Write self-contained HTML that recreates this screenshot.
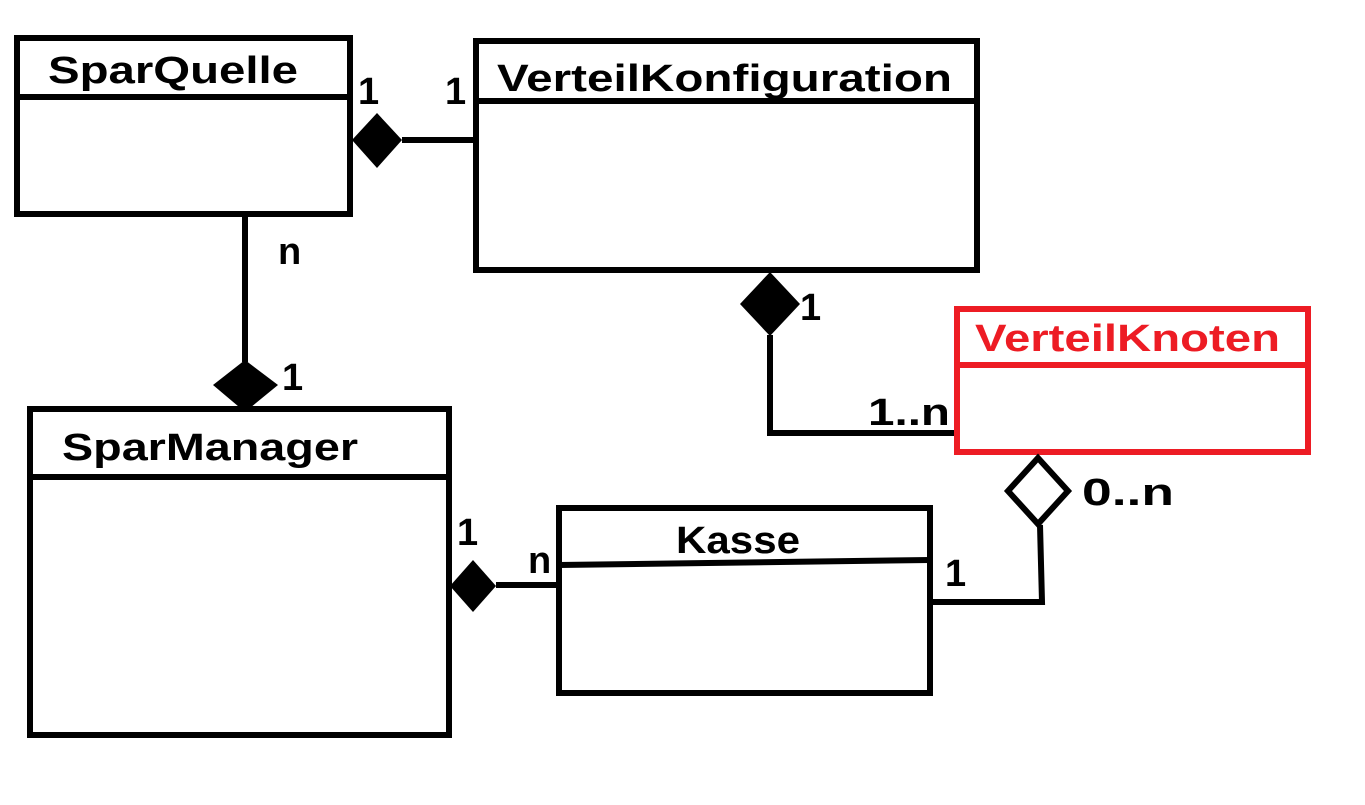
<!DOCTYPE html>
<html><head><meta charset="utf-8"><style>
html,body{margin:0;padding:0;background:#fff;width:1365px;height:805px;overflow:hidden}
text{font-family:"Comic Sans MS","Liberation Sans",sans-serif;font-weight:bold}
</style></head><body>
<svg width="1365" height="805" xmlns="http://www.w3.org/2000/svg">
<g fill="none" stroke="#000" stroke-width="6">
<rect x="17" y="38" width="333" height="176"/>
<line x1="17" y1="97" x2="350" y2="97"/>
<rect x="476" y="41" width="501" height="229"/>
<line x1="476" y1="101" x2="977" y2="101"/>
<rect x="30" y="409" width="419" height="326"/>
<line x1="30" y1="477" x2="452" y2="477"/>
<rect x="559" y="508" width="371" height="185"/>
<line x1="559" y1="565" x2="930" y2="560"/>
<line x1="402" y1="140" x2="476" y2="140"/>
<line x1="245" y1="214" x2="245" y2="362"/>
<line x1="496" y1="585" x2="559" y2="585"/>
<polyline points="770,335 770,433 957,433"/>
<polyline points="1040,525 1042,602 930,602"/>
</g>
<rect x="957" y="309" width="351" height="143" fill="none" stroke="#ed1c24" stroke-width="6"/>
<line x1="957" y1="365" x2="1308" y2="365" stroke="#ed1c24" stroke-width="6"/>
<polygon points="352,140 377,113 402,140 377,168" fill="#000"/>
<polygon points="245,360 278,385 245,412 213,385" fill="#000"/>
<polygon points="450,586 473,560 496,586 473,612" fill="#000"/>
<polygon points="770,272 800,304 770,336 740,304" fill="#000"/>
<polygon points="1038,458 1068,491 1038,524 1008,491" fill="#fff" stroke="#000" stroke-width="6"/>
<g font-size="38" fill="#000">
<text x="48" y="83" textLength="250" lengthAdjust="spacingAndGlyphs">SparQuelle</text>
<text x="497" y="91" textLength="455" lengthAdjust="spacingAndGlyphs">VerteilKonfiguration</text>
<text x="62" y="460" textLength="296" lengthAdjust="spacingAndGlyphs">SparManager</text>
<text x="676" y="553" textLength="124" lengthAdjust="spacingAndGlyphs">Kasse</text>
<text x="975" y="351" fill="#ed1c24" textLength="305" lengthAdjust="spacingAndGlyphs">VerteilKnoten</text>
<text x="358" y="104">1</text>
<text x="445" y="104">1</text>
<text x="278" y="264">n</text>
<text x="282" y="390">1</text>
<text x="457" y="545">1</text>
<text x="528" y="573">n</text>
<text x="800" y="320">1</text>
<text x="868" y="425" textLength="82" lengthAdjust="spacingAndGlyphs">1..n</text>
<text x="1082" y="505" textLength="92" lengthAdjust="spacingAndGlyphs">0..n</text>
<text x="945" y="586">1</text>
</g>
</svg>
</body></html>
